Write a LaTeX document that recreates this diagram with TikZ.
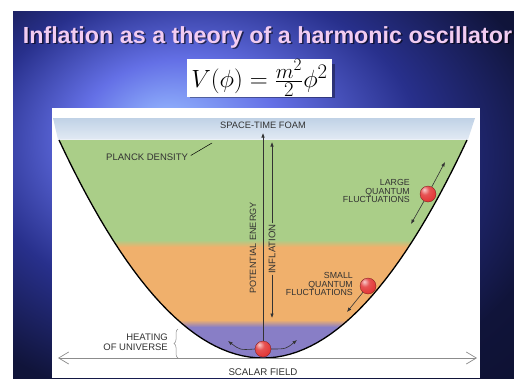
\documentclass[tikz,border=0pt]{standalone}
\usepackage{amsmath}
\usepackage{fontspec}
\setmainfont{Liberation Sans}
\usetikzlibrary{arrows.meta,decorations.pathreplacing,positioning}

\definecolor{planckgreen}{RGB}{170,206,136}
\definecolor{inflorange}{RGB}{240,176,108}
\definecolor{heatpurple}{RGB}{136,126,198}
\definecolor{foamtop}{RGB}{192,210,230}
\definecolor{foambot}{RGB}{226,234,244}
\definecolor{labelgray}{RGB}{50,50,50}
\definecolor{titlepink}{RGB}{242,204,242}
\definecolor{ballred}{RGB}{226,52,52}
\definecolor{skylight}{RGB}{150,185,255}
\definecolor{skymid}{RGB}{100,112,230}
\definecolor{skydeep}{RGB}{40,48,140}
\definecolor{skynight}{RGB}{16,20,58}
\definecolor{skyblack}{RGB}{8,10,30}

\pgfdeclareradialshading{slidesky}{\pgfpoint{-10bp}{10bp}}{%
  color(0bp)=(skylight); color(10bp)=(skymid); color(22bp)=(skydeep);
  color(34bp)=(skynight); color(60bp)=(skyblack)}
\pgfdeclareradialshading{redbead}{\pgfpoint{-12bp}{14bp}}{%
  color(0bp)=(ballred!25!white); color(14bp)=(ballred!85!white);
  color(34bp)=(ballred); color(52bp)=(ballred!75!black);
  color(80bp)=(ballred!60!black)}

\tikzset{
  lbl/.style={font=\fontsize{8.8}{8.8}\selectfont, text=labelgray,
    align=right, inner sep=0pt},
  ptr/.style={draw=black!80, line width=0.6pt,
    -{Latex[length=4.5pt,width=3.5pt]}},
  bead/.style={circle, minimum size=16pt, inner sep=0pt,
    shading=redbead, draw=ballred!50!black, line width=0.3pt},
}

\begin{document}
\begin{tikzpicture}[x={(1pt,0)}, y={(0,-1pt)}]

    \useasboundingbox (0,0) rectangle (514,378);

    % Folie
    \fill[white] (0,0) rectangle (514,378);
    \shade[shading=slidesky] (13,11) rectangle (514,378);

    % Titel
    \node[font=\bfseries\fontsize{23.3}{25}\selectfont, text=black, opacity=0.6,
        anchor=base] at (269,44.5) {Inflation as a theory of a harmonic oscillator};
    \node[font=\bfseries\fontsize{23.3}{25}\selectfont, text=titlepink, anchor=base]
        (title) at (267.5,43) {Inflation as a theory of a harmonic oscillator};

    % Formel
    \fill[black, opacity=0.35] (189.5,63.5) rectangle (334.5,97.5);
    \node[fill=white, minimum width=145pt, minimum height=34pt, inner sep=0pt,
        font=\fontsize{24.88}{28}\selectfont]
        (formula) at (259.5,78) {$V(\phi)=\frac{m^2}{2}\phi^2$};

    % Diagramm
    \fill[white] (52,108) rectangle (480,378);
    \shade[top color=foamtop, bottom color=foambot]
        (53,118) -- (475,118) -- (468,139.5) -- (58,139.5) -- cycle;

    \begin{scope}
        \clip plot[domain=-204:204, samples=61]
            ({263+\x}, {358-218*(\x/204)*(\x/204)}) -- cycle;
        \fill[planckgreen] (50,139) rectangle (480,240);
        \shade[top color=planckgreen, bottom color=inflorange]
            (50,240) rectangle (480,247);
        \fill[inflorange] (50,247) rectangle (480,320);
        \shade[top color=inflorange, bottom color=heatpurple]
            (50,320) rectangle (480,327);
        \fill[heatpurple] (50,327) rectangle (480,360);
    \end{scope}

    \draw[line width=1.3pt] plot[domain=-204:204, samples=61]
        ({263+\x}, {358-218*(\x/204)*(\x/204)});

    % Achse
    \coordinate (axL) at (58,358);
    \coordinate (axR) at (477,358);
    \draw[black!45, line width=0.7pt,
        {Straight Barb[length=10pt,width=12pt]}-{Straight Barb[length=10pt,width=12pt]}]
        (axL) -- (axR);
    \node[lbl, font=\fontsize{9.7}{9.7}\selectfont] (scalar) at (263,372) {SCALAR FIELD};

    % Kugeln
    \node[bead] (ballbot) at (263,349) {};
    \node[bead] (ballbig) at (428,194) {};
    \node[bead] (ballsmall) at (368,286) {};

    % Energie und Inflation
    \coordinate (petop) at (263,133);
    \draw[ptr] (ballbot.north) -- (petop);
    \node[lbl, font=\fontsize{9.1}{9.1}\selectfont, rotate=90]
        (pelbl) at (253,248) {POTENTIAL ENERGY};

    \node[lbl, font=\fontsize{9.6}{9.6}\selectfont, rotate=90, inner sep=0.6pt]
        (infl) at (272,249) {INFLATION};
    \coordinate (infltop) at (272,142);
    \coordinate (inflbot) at (272,318);
    \draw[ptr] (infl.east) -- (infltop);
    \draw[ptr] (infl.west) -- (inflbot);

    % Fluktuationen
    \coordinate (bigup) at (445,162);
    \coordinate (bigdn) at (411,224);
    \draw[ptr] (ballbig) -- (bigup);
    \draw[ptr] (ballbig) -- (bigdn);
    \node[lbl, anchor=east] (biglbl) at (410,191) {LARGE\\QUANTUM\\FLUCTUATIONS};

    \coordinate (smalltip) at (347,312);
    \draw[ptr] (ballsmall) -- (smalltip);
    \node[lbl, anchor=east] (smalllbl) at (353,284) {SMALL\\QUANTUM\\FLUCTUATIONS};

    \coordinate (heatL) at (228,341);
    \coordinate (heatR) at (297,340);
    \draw[ptr] (ballbot.west) .. controls (240,350) .. (heatL);
    \draw[ptr] (ballbot.east) .. controls (286,349) .. (heatR);

    % Beschriftungen
    \node[lbl, font=\fontsize{9.3}{9.3}\selectfont] (foam) at (263,125) {SPACE-TIME FOAM};
    \node[lbl, font=\fontsize{9.5}{9.5}\selectfont, anchor=west]
        (planck) at (106,157) {PLANCK DENSITY};
    \coordinate (planckend) at (212,143);
    \draw[line width=0.5pt, shorten <=3pt] (planck.east) -- (planckend);

    \node[lbl, font=\fontsize{9.5}{10.2}\selectfont, anchor=east]
        (heatlbl) at (168,342) {HEATING\\OF UNIVERSE};
    \draw[black!45, line width=0.5pt, decorate, decoration={brace, amplitude=4pt}]
        (178,358) -- (178,329);

\end{tikzpicture}
\end{document}
